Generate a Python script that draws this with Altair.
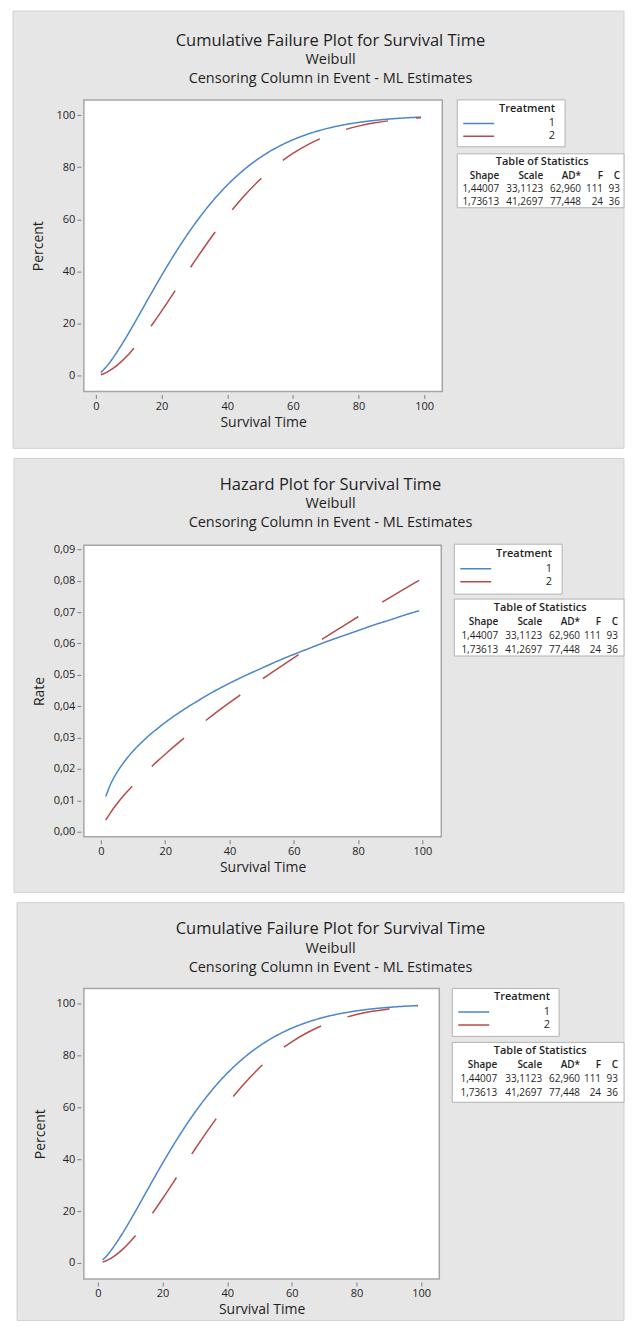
import altair as alt
import pandas as pd

# ---------------- data ----------------
treatments = ["1", "2"]
time_points = [1.5, 3, 5, 7.5, 10, 12.5, 15, 17.5, 20, 25, 30, 35, 40, 45, 50,
               55, 60, 65, 70, 75, 80, 85, 90, 95, 99]
cum_fail_1 = [1.15, 3.10, 6.36, 11.12, 16.33, 21.80, 27.37, 32.91, 38.36, 48.68,
              57.99, 66.14, 73.09, 78.89, 83.64, 87.47, 90.50, 92.87, 94.71, 96.11,
              97.16, 97.95, 98.53, 98.96, 99.21]
cum_fail_2 = [0.32, 1.05, 2.53, 5.05, 8.18, 11.82, 15.85, 20.19, 24.74, 34.22,
              43.72, 52.82, 61.22, 68.72, 75.23, 80.73, 85.26, 88.92, 91.82, 94.05,
              95.74, 97.00, 97.92, 98.58, 98.96]
hazard_1 = [0.0112, 0.0151, 0.0189, 0.0226, 0.0257, 0.0283, 0.0307, 0.0328, 0.0348,
            0.0384, 0.0416, 0.0446, 0.0473, 0.0498, 0.0521, 0.0544, 0.0565, 0.0585,
            0.0605, 0.0623, 0.0641, 0.0659, 0.0675, 0.0692, 0.0704]
hazard_2 = [0.0037, 0.0061, 0.0089, 0.0120, 0.0148, 0.0175, 0.0200, 0.0224, 0.0247,
            0.0291, 0.0333, 0.0373, 0.0411, 0.0448, 0.0485, 0.0520, 0.0554, 0.0588,
            0.0621, 0.0653, 0.0685, 0.0716, 0.0747, 0.0777, 0.0801]

x_ticks = [0, 20, 40, 60, 80, 100]
percent_ticks = [0, 20, 40, 60, 80, 100]
rate_ticks = [0.0, 0.01, 0.02, 0.03, 0.04, 0.05, 0.06, 0.07, 0.08, 0.09]

panel_titles = ["Cumulative Failure Plot for Survival Time",
                "Hazard Plot for Survival Time",
                "Cumulative Failure Plot for Survival Time"]
subtitle_lines = ["Weibull", "Censoring Column in Event - ML Estimates"]
legend_title = "Treatment"
table_title = "Table of Statistics"
stat_headers = ["Shape", "Scale", "AD*", "F", "C"]
shape_est = [1.44007, 1.73613]
scale_est = [33.1123, 41.2697]
ad_stat = [62.960, 77.448]
failures = [111, 24]
censored = [93, 36]


def comma(v, d):
    return f"{v:.{d}f}".replace(".", ",")


table_rows = [[comma(shape_est[i], 5), comma(scale_est[i], 4), comma(ad_stat[i], 3),
               str(failures[i]), str(censored[i])] for i in range(2)]

# ---------------- styling / layout ----------------
FONT = "Open Sans"
INK = "#1f1f1f"
BLUE = "#4a86c8"
RED = "#b84a4a"
GREY_BG = "#e6e6e6"

# all positions are relative to each panel's plot-area origin (page x = 83)
layouts = [
    dict(W=359, H=292, xdom=[-3.65, 105.5], ydom=[-6.1, 105.8], ytp=11,
         frame=(-71, 542, -90, 354), grey=(-71, 541, -89, 349),
         tx=247, ty=(-59, -40, -21), lbox=(374, 482, 0, 47), lx=379, ly=3,
         tbox=(374, 541, 54, 108), ttx=459, tty=62, cols=[416, 460, 498, 520, 537],
         rows=[76, 89, 102]),
    dict(W=358, H=292, xdom=[-5.3, 105.9], ydom=[-0.0016, 0.0913], ytp=7,
         frame=(-71, 542, -92, 352.5), grey=(-70, 541, -87, 348),
         tx=247, ty=(-60, -41, -22), lbox=(371, 479, -1, 49), lx=376, ly=3,
         tbox=(371, 541, 54, 111), ttx=457, tty=63, cols=[415, 459, 497, 518, 535],
         rows=[77, 91, 105]),
    dict(W=356, H=291, xdom=[-4.3, 105.6], ydom=[-6.2, 105.8], ytp=9,
         frame=(-71, 542, -90.5, 333), grey=(-67, 541, -86, 332.5),
         tx=247, ty=(-60, -40, -21), lbox=(369, 476, 0, 48), lx=374, ly=3,
         tbox=(369, 541, 54, 114), ttx=457, tty=63, cols=[414, 459, 497, 518, 535],
         rows=[77, 91, 105]),
]


def base():
    return alt.Chart(pd.DataFrame({"k": [0]}))


def box(b, fill, stroke=None, sw=1.0, opacity=1.0):
    kw = dict(fill=fill, opacity=opacity)
    if stroke:
        kw.update(stroke=stroke, strokeWidth=sw)
    return base().mark_rect(**kw).encode(
        x=alt.value(b[0]), x2=alt.value(b[1]), y=alt.value(b[2]), y2=alt.value(b[3]))


def txt(s, x, y, size, align="center", weight="normal"):
    return base().mark_text(text=s, font=FONT, fontSize=size, fontWeight=weight,
                            color=INK, align=align, baseline="middle").encode(
        x=alt.value(x), y=alt.value(y))


AX = dict(zindex=1, grid=False, domain=False, offset=3, tickSize=4, tickColor="#808080",
          labelPadding=2, labelFont=FONT, labelFontSize=11, labelColor=INK,
          titleFont=FONT, titleFontSize=14, titleFontWeight="normal", titleColor=INK)


def panel(L, title, v1, v2, yticks, ytitle, ylabelexpr=None):
    n = len(time_points)
    df = pd.DataFrame({
        "Survival Time": time_points + time_points,
        "value": v1 + v2,
        "Treatment": [treatments[0]] * n + [treatments[1]] * n,
    })
    leg = alt.Legend(
        title=legend_title, orient="none", legendX=L["lx"], legendY=L["ly"],
        titleAnchor="end", titleFont=FONT, titleFontSize=11, titleFontWeight=600,
        titleColor=INK, titlePadding=3, labelFont=FONT, labelFontSize=11,
        labelColor=INK, labelAlign="right", labelOffset=60, symbolType="stroke",
        symbolSize=961, symbolStrokeWidth=1.5, clipHeight=13, rowPadding=0,
        padding=0, symbolOffset=0,
    )
    yaxis_kw = dict(AX, values=yticks, title=ytitle, titlePadding=L["ytp"])
    if ylabelexpr:
        yaxis_kw["labelExpr"] = ylabelexpr
    lines = alt.Chart(df).mark_line(strokeWidth=1.5, interpolate="monotone").encode(
        x=alt.X("Survival Time:Q",
                scale=alt.Scale(domain=L["xdom"], nice=False, zero=False),
                axis=alt.Axis(**dict(AX, values=x_ticks, title="Survival Time",
                                     titlePadding=4))),
        y=alt.Y("value:Q", scale=alt.Scale(domain=L["ydom"], nice=False, zero=False),
                axis=alt.Axis(**yaxis_kw)),
        color=alt.Color("Treatment:N", scale=alt.Scale(domain=treatments, range=[BLUE, RED]),
                        legend=leg),
        strokeDash=alt.StrokeDash("Treatment:N",
                                  scale=alt.Scale(domain=treatments, range=[[1, 0], [43, 28]]),
                                  legend=leg),
    )
    layers = [
        box(L["frame"], "white", opacity=0),
        box(L["grey"], GREY_BG, stroke="#d2d2d2", sw=1),
        box((0, L["W"], 0, L["H"]), "white", stroke="#a6a6a6", sw=1.5),
        lines,
        txt(title, L["tx"], L["ty"][0], 16.5),
        txt(subtitle_lines[0], L["tx"], L["ty"][1], 14.5),
        txt(subtitle_lines[1], L["tx"], L["ty"][2], 14.5),
        box(L["lbox"], "white", stroke="#b3b3b3", sw=1),
        box(L["tbox"], "white", stroke="#b3b3b3", sw=1),
        txt(table_title, L["ttx"], L["tty"], 11, weight=600),
    ]
    for c, h in enumerate(stat_headers):
        layers.append(txt(h, L["cols"][c], L["rows"][0], 10, align="right", weight=600))
        for r in range(2):
            layers.append(txt(table_rows[r][c], L["cols"][c], L["rows"][r + 1], 10,
                              align="right"))
    return alt.layer(*layers).properties(width=L["W"], height=L["H"])


p1 = panel(layouts[0], panel_titles[0], cum_fail_1, cum_fail_2, percent_ticks, "Percent")
p2 = panel(layouts[1], panel_titles[1], hazard_1, hazard_2, rate_ticks, "Rate",
           "replace(format(datum.value, '.2f'), '.', ',')")
p3 = panel(layouts[2], panel_titles[2], cum_fail_1, cum_fail_2, percent_ticks, "Percent")

chart = (
    alt.vconcat(p1, p2, p3, spacing=0)
    .resolve_scale(color="independent", strokeDash="independent")
    .resolve_legend(color="independent", strokeDash="independent")
    .properties(padding={"left": 4, "top": 1, "right": 0, "bottom": 0})
    .configure_view(stroke=None)
)

chart.save("out.html", embed_options={"renderer": "svg", "actions": False})
